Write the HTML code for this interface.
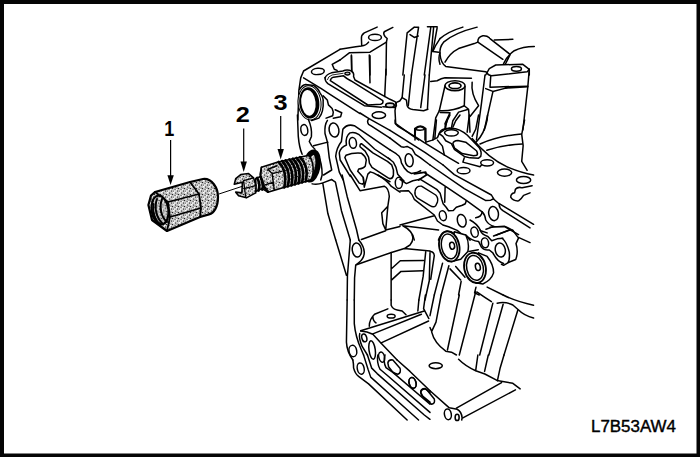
<!DOCTYPE html>
<html><head><meta charset="utf-8">
<style>
html,body{margin:0;padding:0;background:#fff;}
body{width:700px;height:457px;overflow:hidden;position:relative;font-family:"Liberation Sans",sans-serif;}
svg{position:absolute;left:0;top:0;}
.l{fill:none;stroke:#000;stroke-width:6.5;stroke-linecap:round;stroke-linejoin:round;}
.w{fill:#fff;stroke:#000;stroke-width:6.5;stroke-linejoin:round;}
.g{fill:url(#st);stroke:#000;stroke-width:6.5;stroke-linejoin:round;}
.k{fill:#000;stroke:none;}
text{font-family:"Liberation Sans",sans-serif;fill:#000;}
.t5 .g{fill:url(#st5);stroke-width:11}.t7 .g{fill:url(#st7);}
.t7 .l,.t7 .w{stroke-width:10.5}
.t7 .g{stroke-width:11}
</style></head><body>
<svg width="700" height="457" viewBox="0 0 700 457">
<defs>
<pattern id="st" width="6" height="6" patternUnits="userSpaceOnUse" patternTransform="scale(1)"><rect width="6" height="6" fill="#cecece"/><rect x="1" y="0" width="1.3" height="1.3" fill="#fff"/><rect x="4" y="3" width="1.3" height="1.3" fill="#fff"/><rect x="2" y="4.6" width="1.2" height="1.2" fill="#f4f4f4"/><rect x="0" y="2" width="1.1" height="1.1" fill="#222"/><rect x="3" y="0.5" width="1.1" height="1.1" fill="#333"/><rect x="5" y="4.5" width="1.1" height="1.1" fill="#222"/><rect x="2.5" y="2.8" width="1.1" height="1.1" fill="#444"/><rect x="0.8" y="4.6" width="1" height="1" fill="#555"/><rect x="4.6" y="1.6" width="1" height="1" fill="#555"/></pattern><pattern id="st5" width="6" height="6" patternUnits="userSpaceOnUse" patternTransform="scale(5)"><rect width="6" height="6" fill="#cecece"/><rect x="1" y="0" width="1.3" height="1.3" fill="#fff"/><rect x="4" y="3" width="1.3" height="1.3" fill="#fff"/><rect x="2" y="4.6" width="1.2" height="1.2" fill="#f4f4f4"/><rect x="0" y="2" width="1.1" height="1.1" fill="#222"/><rect x="3" y="0.5" width="1.1" height="1.1" fill="#333"/><rect x="5" y="4.5" width="1.1" height="1.1" fill="#222"/><rect x="2.5" y="2.8" width="1.1" height="1.1" fill="#444"/><rect x="0.8" y="4.6" width="1" height="1" fill="#555"/><rect x="4.6" y="1.6" width="1" height="1" fill="#555"/></pattern><pattern id="st7" width="6" height="6" patternUnits="userSpaceOnUse" patternTransform="scale(7)"><rect width="6" height="6" fill="#cecece"/><rect x="1" y="0" width="1.3" height="1.3" fill="#fff"/><rect x="4" y="3" width="1.3" height="1.3" fill="#fff"/><rect x="2" y="4.6" width="1.2" height="1.2" fill="#f4f4f4"/><rect x="0" y="2" width="1.1" height="1.1" fill="#222"/><rect x="3" y="0.5" width="1.1" height="1.1" fill="#333"/><rect x="5" y="4.5" width="1.1" height="1.1" fill="#222"/><rect x="2.5" y="2.8" width="1.1" height="1.1" fill="#444"/><rect x="0.8" y="4.6" width="1" height="1" fill="#555"/><rect x="4.6" y="1.6" width="1" height="1" fill="#555"/></pattern>
</defs>
<rect x="0" y="0" width="700" height="457" fill="#fff"/>
<!-- border -->
<path d="M0 0H700V457H0Z M4 4V453.5H696.5V4Z" fill="#050505" fill-rule="evenodd"/>
<!-- labels -->
<text transform="translate(169.2,135.9) scale(0.82,1)" font-size="22" font-weight="bold" text-anchor="middle">1</text>
<text transform="translate(242.8,122.4) scale(1.15,1)" font-size="22" font-weight="bold" text-anchor="middle">2</text>
<text transform="translate(280.6,109.9) scale(1.15,1)" font-size="22" font-weight="bold" text-anchor="middle">3</text>
<text x="591" y="431.7" font-size="16.4" stroke="#000" stroke-width="0.4" textLength="85" lengthAdjust="spacingAndGlyphs">L7B53AW4</text>
<!-- arrows -->
<g stroke="#000" stroke-width="1.2" fill="#000">
<path d="M170.6 140V176"/><path d="M170.6 185L167.4 175.3H173.8Z" stroke="none"/>
<path d="M243.7 128.4V162"/><path d="M243.7 172L240.5 161.6H246.9Z" stroke="none"/>
<path d="M280.7 116V150"/><path d="M280.7 159.5L277.5 149H283.9Z" stroke="none"/>
</g>

<!-- nut + rod : origin 130,150 scale 5 -->
<g transform="translate(130,150) scale(0.2)" class="t5">
<path class="l" d="M445 220L560 182" style="stroke-width:5"/>
<path class="g" d="M125 210L300 160L365 145C410 140 440 190 440 235C440 285 420 315 395 322L350 335L185 405L110 350L92 275L105 228Z"/>
<path class="l" style="stroke-width:9" d="M125 210L190 260L200 335L185 405M190 260L345 220M200 335L355 290M300 160L345 220L355 290L350 335"/>
<ellipse cx="150" cy="300" rx="42" ry="72" fill="url(#st5)" stroke="#000" stroke-width="11" transform="rotate(-8 150 300)"/>
<path class="l" d="M135 245C120 285 130 340 165 370M160 245C145 285 155 335 185 360M117 270C110 310 125 350 150 372" style="stroke-width:10"/>
</g>
<!-- clip + fitting : origin 225,150 scale 7 -->
<g transform="translate(225,150) scale(0.142857)" class="t7">
<ellipse cx="606" cy="112" rx="44" ry="98" fill="url(#st7)" stroke="#000" stroke-width="38" transform="rotate(10 606 112)"/>
<path class="g" style="stroke-width:11" d="M215 200L250 185L255 120L365 85L545 45L585 38C618 70 628 150 604 207L565 220L405 265L300 295L260 270L215 290Z"/>
<path class="l" style="stroke-width:18" d="M375 83Q440 150 415 262M400 77Q465 145 440 255M425 72Q490 140 465 248M450 66Q515 130 490 241M475 61Q540 125 515 234M500 55Q565 120 540 227M525 50Q590 115 565 220"/>
<path class="l" style="stroke-width:10" d="M255 120L245 170L262 250L300 295M300 135L330 165L345 280M300 135L365 110M330 165L395 150M262 250L340 225"/>
<path class="l" style="stroke-width:17" d="M225 195Q250 240 235 285M248 186Q278 235 260 278M268 250Q285 270 300 292"/>
<path class="g" style="stroke-width:11" d="M75 200L110 172L165 165L200 195L217 250L215 300L150 335L95 320L75 295L118 300L122 225L65 240Z"/>
<path class="l" style="stroke-width:9" d="M130 215L145 330M130 215L200 195M140 268L215 250"/>
</g>

<!-- Ta: origin 340,10 scale 7 -->
<g transform="translate(340,10) scale(0.142857)" class="t7">
<path class="l" d="M260 120L170 160Q148 175 150 200L152 250M0 275L110 258L150 252Q185 248 200 225"/>
<path class="l" d="M0 350L65 300L210 295L325 225"/>
<ellipse class="l" cx="245" cy="192" rx="45" ry="22"/>
<path class="l" d="M370 122L310 152Q300 165 315 185L330 200L325 225L322 455"/>
<path class="l" d="M80 320L82 430M210 320L210 455"/>
<path class="l" d="M520 120L470 160L440 455M550 120L500 455M520 120L550 120M490 172L520 192L548 182"/>
<path class="l" d="M612 118L680 118M635 125L590 455M655 125L625 455M680 125L650 290"/>
<path class="l" d="M700 200Q665 250 650 290L690 295M700 300Q685 340 700 380"/>
</g>

<!-- Tb: origin 290,55 scale 7 -->
<g transform="translate(290,55) scale(0.142857)" class="t7">
<path class="l" d="M95 112L350 -40M95 112L75 160L62 250L55 455"/>
<path class="l" d="M350 35L295 65L310 100L330 108"/>
<path class="l" d="M430 0L432 112M555 0L560 195M672 100L663 290"/>
<ellipse class="l" cx="195" cy="115" rx="45" ry="22" transform="rotate(-5 195 115)"/>
<!-- gasket ridge -->
<path class="l" d="M245 160Q255 135 290 125L370 112Q400 98 430 112Q450 125 445 150L455 175L700 310L738 328L745 355L730 368L650 363"/>
<path class="l" d="M245 160Q245 185 265 200L520 355L640 365"/>
<path class="l" d="M282 180Q285 160 305 155L375 146Q395 165 425 180L650 320Q655 340 635 345L545 350Z"/>
<path class="l" d="M262 172Q265 150 295 140L372 128" style="stroke-width:6"/>
<ellipse cx="402" cy="130" rx="18" ry="10" fill="#bbb" stroke="#000" stroke-width="9"/>
<!-- L1 -->
<path class="l" d="M95 160L219 235L280 275L400 353L490 410"/>
<!-- port ring -->
<ellipse cx="137" cy="335" rx="80" ry="120" fill="#fff" stroke="#000" stroke-width="7" transform="rotate(-6 137 335)"/>
<ellipse cx="135" cy="335" rx="70" ry="110" fill="#000" transform="rotate(-6 135 335)"/><ellipse cx="129" cy="335" rx="50" ry="90" fill="#fff" transform="rotate(-6 129 335)"/>
<path class="l" d="M67 240Q85 210 109 206L168 214Q200 235 210 265Q235 300 232 324Q235 360 227 391Q220 420 202 442L152 459"/>
<path class="l" d="M232 286L261 315L269 349L295 374L303 400L299 425L253 442"/>
<path class="l" d="M316 383L362 404L354 433L303 442"/>
</g>

<!-- Tc: origin 440,10 scale 7 -->
<g transform="translate(440,10) scale(0.142857)" class="t7">
<path class="l" d="M0 200Q60 150 160 120"/>
<path class="l" d="M260 120Q100 160 25 225Q-5 260 0 310Q5 370 40 395L320 432"/>
<path class="l" d="M35 365Q70 300 130 270L240 235L265 225"/>
<path class="l" d="M265 225Q262 190 300 180Q330 178 345 195M265 225L440 345M350 200L490 310"/>
<path class="l" d="M380 210L510 205"/>
<path class="l" d="M445 375Q470 320 520 285Q580 255 660 255M458 378L490 315"/>
<path class="l" d="M320 455L345 410L390 385L580 380L625 415L625 455"/>
<ellipse class="l" cx="535" cy="412" rx="35" ry="17"/>
</g>

<!-- Td: origin 390,75 scale 7 -->
<g transform="translate(390,75) scale(0.142857)" class="t7">
<path class="l" d="M100 0L85 158L68 182L45 192L35 250L40 340L150 420L200 455"/>
<path class="l" d="M85 158L115 176L120 215Q130 238 160 242L235 250L265 240"/>
<path class="l" d="M150 0L128 215M245 0L215 228M275 0L262 240"/>
<path class="l" d="M285 45L330 40Q360 25 385 20L570 22"/>
<path class="l" d="M575 50Q565 130 620 215L560 290M665 0L640 200L605 455"/>
<path class="w" d="M385 75L345 250Q440 255 520 215L525 80Z"/>
<ellipse class="w" cx="455" cy="75" rx="70" ry="35"/>
<ellipse cx="455" cy="75" rx="42" ry="20" fill="#fff" stroke="#000" stroke-width="12"/>
<path class="l" d="M345 250L320 300L300 455M352 262L420 265L385 340L390 370"/>
<path class="l" d="M520 215L550 240L555 300L560 400M550 240L480 260L440 320L430 370"/>
<path class="l" d="M175 455L178 380Q210 345 245 380L245 455"/>
<ellipse cx="0" cy="212" rx="30" ry="15" fill="#ddd" stroke="#000" stroke-width="12"/>
</g>

<!-- Te: origin 470,65 scale 7 -->
<g transform="translate(470,65) scale(0.142857)" class="t7">
<path class="l" d="M115 50Q125 72 150 75L400 48L415 30"/>
<path class="l" d="M145 80L140 155L405 148M110 165L160 185L250 162L405 152"/>
<path class="l" d="M160 188L100 455M415 30L405 150L370 455"/>
</g>

<!-- Tf: origin 290,115 scale 7 -->
<g transform="translate(290,115) scale(0.142857)" class="t7">
<path class="l" d="M52 0L58 150Q65 230 85 275"/>
<ellipse class="l" cx="100" cy="105" rx="24" ry="38" transform="rotate(-10 100 105)"/>
<ellipse class="l" cx="308" cy="105" rx="34" ry="50" transform="rotate(-10 308 105)"/>
<ellipse class="l" cx="440" cy="195" rx="25" ry="38" transform="rotate(-8 440 195)"/>
<path class="l" d="M128 30Q155 90 150 150L135 185Q150 220 175 240M165 215L265 190"/>
<path class="l" d="M262 38Q240 70 245 130L262 190L275 300L292 385L235 420"/>
<path class="l" d="M700 244L450 75Q400 60 370 100L360 185Q325 230 320 290L345 400L372 455"/>
<path class="l" d="M700 310L592 238L480 135Q450 115 420 125Q385 150 395 210Q355 225 345 265L351 315L386 371L422 430"/>
<path class="l" d="M502 202L580 265L682 325L712 349Q730 385 724 420Q720 445 700 446L684 438L574 367L556 337L550 295L526 253L490 222Q488 200 502 202Z"/>
<path class="l" d="M392 282Q440 262 499 267Q530 290 534 315L527 357Q515 375 481 378L474 394L495 417L513 438L517 474L506 484L485 477L421 385L384 298Z"/><path class="l" d="M513 438L520 505L545 414L562 398L584 405L700 467"/>
<path class="l" d="M490 -14L553 25L700 107M553 25Q535 45 550 65L568 76L700 162"/>
<ellipse class="l" cx="622" cy="1" rx="47" ry="23"/>
<path class="l" d="M200 290Q225 340 225 420L215 455"/>
</g>

<!-- Tg: origin 390,115 scale 7 -->
<g transform="translate(390,115) scale(0.142857)" class="t7">
<path class="l" d="M36 35L36 60L53 77L170 148L240 194L420 303L480 338"/>
<path class="l" d="M0 107L92 165L247 264L372 350"/>
<path class="l" d="M0 162L78 222L99 225L120 220L156 239L177 275L212 299L280 350"/>
<path class="l" d="M0 244L43 271L64 289L75 310L80 335L102 373Q120 400 150 409L186 403L215 390"/>
<path class="l" d="M-12 301L24 331L42 367L54 415L84 448L98 462"/>
<ellipse class="l" cx="134" cy="317" rx="28" ry="46" transform="rotate(-8 134 317)"/>
<path class="l" d="M173 148L173 95Q212 60 251 95L251 190M173 97Q212 118 251 95"/>
<path class="l" d="M251 190L297 176L332 158L346 127L381 102L420 91M332 176L367 218L381 282M325 35L314 162M399 35L388 84"/>
<path class="l" d="M345 130Q350 105 380 97L430 92Q490 95 540 140L625 230Q645 260 635 290L620 302L560 300L520 290L450 240L430 200L390 180L370 150Z"/>
<ellipse class="l" cx="430" cy="125" rx="48" ry="22"/>
<path class="l" d="M440 200Q445 178 475 178L530 190L605 250Q618 272 608 282L585 285L505 270L452 232Z"/>
<ellipse class="l" cx="680" cy="335" rx="45" ry="22"/>
<path class="l" d="M520 300L510 330L630 362L642 348"/>
<ellipse class="l" cx="515" cy="390" rx="45" ry="22"/>
<path class="l" d="M385 90L400 40L420 0M440 85L460 40L490 0M540 120L555 0M575 150L600 100L620 0M605 188Q660 130 680 35L683 0"/>
<path class="l" d="M170 412L250 400L255 420L200 455" style="stroke-width:12"/>
</g>

<!-- Th: origin 460,120 scale 7 -->
<g transform="translate(460,120) scale(0.142857)" class="t7">
<path class="l" d="M452 0L432 100L442 180L432 290L470 352"/>
<path class="l" d="M140 168Q270 110 430 98M188 212Q300 175 436 168"/>
<path class="l" d="M85 130Q200 270 330 328Q430 370 515 385"/>
<ellipse class="l" cx="312" cy="368" rx="50" ry="25"/>
<ellipse class="l" cx="445" cy="420" rx="50" ry="25"/>
</g>

<!-- Ti: origin 300,175 scale 7 -->
<g transform="translate(300,175) scale(0.142857)" class="t7">
<path class="l" d="M85 62Q120 70 160 55L222 32M160 60L195 270L250 455"/>
<path class="l" d="M222 32L248 50L290 250L352 455"/>
<path class="l" d="M295 0L330 150L395 380L412 455"/>
<path class="l" d="M352 0L420 110L590 78Q620 90 625 150L615 218L572 265L580 340L600 385L700 360M600 390L430 452M615 218L600 385"/>
<path class="l" d="M545 0Q600 30 640 80L700 120"/>
<ellipse class="l" cx="692" cy="55" rx="25" ry="40"/>
</g>

<!-- Tj: origin 400,175 scale 7 -->
<g transform="translate(400,175) scale(0.142857)" class="t7">
<path class="l" style="stroke-width:10" d="M105 115Q110 75 150 78L250 140Q270 160 262 190L250 215Q235 230 210 215L120 160Q100 140 105 115Z"/>
<path class="l" d="M0 30L45 60L90 40L140 29L260 103L281 127L292 170L302 201L323 226L340 250L373 249L394 226L436 212L457 201L464 180"/>
<path class="l" d="M0 112L60 110Q85 130 100 170L240 280L262 322L300 350L340 362L400 388L440 420L468 455"/>
<ellipse class="l" cx="300" cy="285" rx="24" ry="35" transform="rotate(-15 300 285)"/>
<ellipse class="l" cx="432" cy="320" rx="30" ry="45" transform="rotate(-15 432 320)"/>
<ellipse class="l" cx="522" cy="400" rx="25" ry="36" transform="rotate(-15 522 400)"/>
<ellipse class="l" cx="655" cy="270" rx="34" ry="50" transform="rotate(-10 655 270)"/>
<path class="l" d="M302 -70L380 -3L640 140L655 166L635 176L598 178M210 -70L450 96L598 178"/>
<path class="l" d="M175 -14L316 78L464 177L575 258Q572 292 530 300M316 82L313 191"/>
<path class="l" d="M0 350L240 285M20 355L270 385M20 355Q90 390 100 455"/>
<path class="l" style="stroke-width:12" d="M270 455Q285 410 330 392Q385 395 410 455M460 420L490 455"/>
<path class="l" d="M292 455Q310 425 340 416Q372 428 380 455"/>
</g>

<!-- Tk: origin 470,170 scale 7 -->
<g transform="translate(470,170) scale(0.142857)" class="t7">
<path class="l" d="M435 110L365 125Q335 115 318 135L312 160Q285 165 285 190Q300 218 340 216Q362 200 375 178L420 160"/>
<path class="l" d="M445 380L205 235Q200 262 230 285L420 405"/>
<path class="l" d="M165 203L205 238M85 293Q105 312 110 350Q130 385 170 395L245 398L340 452M112 415L160 398"/>
<path class="l" d="M0 350Q50 375 75 425L120 440M185 455L270 422"/>
</g>

<!-- Tl: origin 330,235 scale 7 -->
<g transform="translate(330,235) scale(0.142857)" class="t7">
<path class="l" d="M40 35L115 282M142 35L122 285L120 455"/>
<path class="l" d="M202 35Q238 80 240 120Q240 165 200 195L180 210L172 300L170 455"/>
<ellipse class="l" cx="188" cy="105" rx="32" ry="50" transform="rotate(-8 188 105)"/>
<path class="l" d="M575 0Q590 35 560 70L520 95L430 122L185 208M520 95L700 112"/>
<path class="l" d="M428 122L428 455M428 238L492 180L655 178M428 318L497 255L652 250"/>
<path class="l" d="M670 118L652 290L622 455M700 125L695 320L665 455"/>
</g>

<!-- Tm: origin 430,230 scale 7 -->
<g transform="translate(430,230) scale(0.142857)" class="t7">
<path class="l" d="M255 40Q290 75 340 80L360 120Q380 145 415 140L440 160Q470 220 515 235"/>
<path class="l" d="M350 0Q365 35 405 45L432 75L470 62L510 58M445 42L560 0M578 0L615 50L700 88"/>
<ellipse class="l" cx="385" cy="90" rx="25" ry="35" transform="rotate(-10 385 90)"/>
<ellipse class="l" cx="492" cy="140" rx="35" ry="50" transform="rotate(-10 492 140)"/>
<path class="w" d="M170 12L250 35Q278 90 265 150L215 205L150 220Z"/>
<ellipse class="w" style="stroke-width:13" cx="135" cy="115" rx="70" ry="107" transform="rotate(-12 135 115)"/>
<ellipse class="l" cx="135" cy="115" rx="54" ry="88" transform="rotate(-12 135 115)"/>
<ellipse class="l" cx="155" cy="110" rx="17" ry="25" transform="rotate(-12 155 110)"/>
<path class="l" d="M272 150L338 138"/>
<path class="w" d="M340 160L400 185Q445 240 445 300Q430 350 370 378L320 370Z"/>
<ellipse class="w" style="stroke-width:13" cx="315" cy="265" rx="75" ry="107" transform="rotate(-12 315 265)"/>
<ellipse class="l" cx="315" cy="265" rx="58" ry="88" transform="rotate(-12 315 265)"/>
<ellipse class="l" cx="335" cy="258" rx="17" ry="26" transform="rotate(-12 335 258)"/>
<path class="l" d="M0 150Q28 150 30 180L5 345"/>
<path class="l" d="M88 232L30 455M132 250L78 455M218 360L200 455M140 272L215 350M180 255L245 330"/>
<path class="l" d="M322 400L312 440L345 455M400 400L512 455"/>
</g>

<!-- Tn: origin 330,295 scale 7 -->
<g transform="translate(330,295) scale(0.142857)" class="t7">
<path class="l" d="M120 35L115 330Q118 395 160 455"/>
<path class="l" d="M170 35L170 200Q178 290 218 380L235 420"/>
<path class="l" d="M428 35L428 72Q440 100 470 105L505 112L532 138"/>
<path class="l" d="M275 218Q275 170 312 135L405 97M300 150Q300 180 322 195"/>
<ellipse cx="428" cy="148" rx="28" ry="13" fill="#fff" stroke="#000" stroke-width="10"/>
<path class="l" style="stroke-width:11" d="M215 250L660 112"/>
<path class="l" d="M300 272L640 135M358 335L690 182"/>
<path class="l" d="M215 252Q260 255 300 275L358 338L470 455M208 270Q200 300 225 360L262 420"/>
<ellipse class="l" cx="240" cy="300" rx="17" ry="28" transform="rotate(-15 240 300)"/>
<ellipse class="l" cx="295" cy="385" rx="22" ry="65" transform="rotate(-8 295 385)"/>
<ellipse class="l" cx="362" cy="435" rx="20" ry="36" transform="rotate(-15 362 435)"/>
<ellipse class="l" cx="160" cy="392" rx="27" ry="40" transform="rotate(-10 160 392)"/>
<path class="l" d="M622 35L615 112M668 0L655 95L692 165"/>
</g>

<!-- To: origin 430,290 scale 7 -->
<g transform="translate(430,290) scale(0.142857)" class="t7">
<path class="l" d="M30 35L0 180M78 35L42 225L12 290L0 262"/>
<path class="l" d="M205 35L122 420M320 12L205 455M330 15Q380 50 430 82"/>
<path class="l" d="M440 92L348 455M512 100L412 455M615 140L518 455"/>
<path class="l" d="M512 35Q600 80 725 106M470 92Q530 80 580 105L620 140Q660 180 725 196"/>
<path class="l" d="M12 295Q30 370 110 428L150 435L185 455"/>
</g>

<!-- Tp: origin 330,355 scale 7 -->
<g transform="translate(330,355) scale(0.142857)" class="t7">
<path class="l" d="M160 35Q165 60 165 90Q175 130 200 150L270 202L540 455"/>
<path class="l" style="stroke-width:10" d="M235 0L268 105L285 155L620 455"/>
<path class="l" d="M262 0L292 92L330 130L660 420L700 450"/>
<path class="l" d="M335 0Q325 50 350 100L400 142L700 402"/>
<path class="l" d="M385 0Q370 45 392 88L440 122L700 345"/>
<path class="l" d="M470 35L560 115L700 250"/>
<ellipse class="l" cx="215" cy="95" rx="24" ry="40" transform="rotate(-12 215 95)"/>
<path class="l" d="M405 55Q410 30 440 35L490 92Q500 125 475 135Q450 130 440 120L410 82Z"/>
<ellipse class="l" cx="578" cy="195" rx="24" ry="38" transform="rotate(-15 578 195)"/>
<path class="l" d="M700 262L665 235Q635 235 635 262L650 290L700 330"/>
</g>

<!-- Tq: origin 400,355 scale 7 -->
<g transform="translate(400,355) scale(0.142857)" class="t7">
<ellipse cx="250" cy="75" rx="46" ry="21" fill="#fff" stroke="#000" stroke-width="11"/>
<path class="l" d="M210 250L345 370L400 380Q430 395 435 440L432 455"/>
<ellipse class="l" cx="88" cy="195" rx="24" ry="38" transform="rotate(-15 88 195)"/>
<path class="l" d="M145 262Q150 232 185 240L240 308Q248 340 222 345L195 325L150 282Z"/>
<ellipse class="l" cx="335" cy="415" rx="24" ry="38" transform="rotate(-10 335 415)"/>
<ellipse cx="400" cy="437" rx="14" ry="22" fill="#fff" stroke="#000" stroke-width="11"/>
<path class="l" d="M395 372L711 194M440 440L808 244"/>
<path class="l" d="M545 0L530 108M618 0L592 115M728 0L700 95L682 180"/>
<path class="l" d="M410 30Q460 80 530 110L594 133L679 178L790 198L841 237"/>
</g>

<!-- Tr: origin 490,225 scale 7 -->
<g transform="translate(490,225) scale(0.142857)" class="t7">
<path class="l" d="M85 93Q118 120 135 190Q140 245 125 265L95 282L80 275"/>
<path class="l" d="M128 262L180 242Q200 190 182 130L200 90"/>
<path class="l" d="M0 15L100 8Q140 25 160 40"/>
</g>
<!--TILES-->
</svg>
</body></html>
